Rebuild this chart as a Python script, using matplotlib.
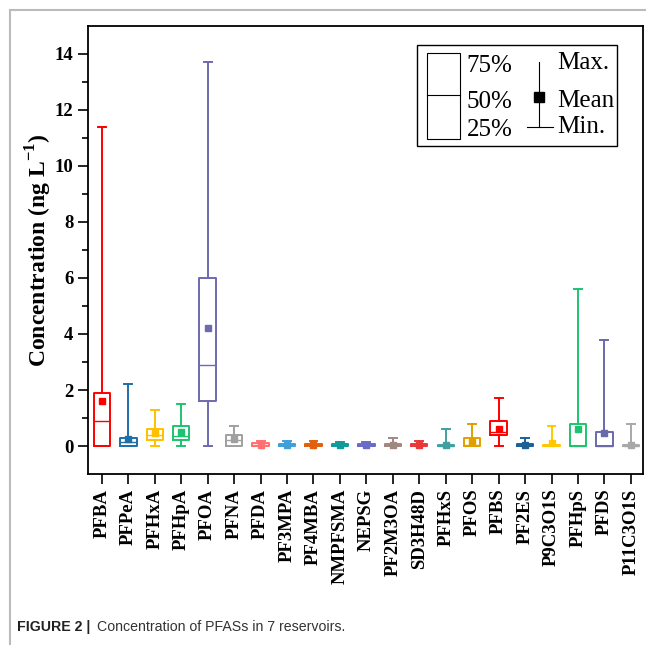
import numpy as np
import matplotlib.pyplot as plt
from matplotlib.patches import Rectangle
from matplotlib.lines import Line2D

plt.rcParams['font.family'] = ['Liberation Serif', 'DejaVu Serif']
plt.rcParams['mathtext.fontset'] = 'custom'
plt.rcParams['mathtext.rm'] = 'Liberation Serif'
plt.rcParams['mathtext.bf'] = 'Liberation Serif:bold'

# data (ng/L)
names = ['PFBA', 'PFPeA', 'PFHxA', 'PFHpA', 'PFOA', 'PFNA', 'PFDA', 'PF3MPA', 'PF4MBA',
         'NMPFSMA', 'NEPSG', 'PF2M3OA', 'SD3H48D', 'PFHxS', 'PFOS', 'PFBS', 'PF2ES',
         'P9C3O1S', 'PFHpS', 'PFDS', 'P11C3O1S']
vmin = [0, 0, 0, 0, 0, 0, 0, 0, 0, 0, 0, 0, 0, 0, 0, 0, 0, 0, 0, 0, 0]
q1 = [0, 0, 0.2, 0.2, 1.6, 0, 0, 0, 0, 0, 0, 0, 0, 0, 0, 0.4, 0, 0, 0, 0, 0]
med = [0.9, 0.15, 0.4, 0.35, 2.9, 0.2, 0.05, 0.02, 0.02, 0.02, 0.02, 0.03, 0.02, 0.01, 0.05, 0.5, 0.02, 0.02, 0.0, 0.0, 0.01]
q3 = [1.9, 0.3, 0.6, 0.7, 6.0, 0.4, 0.1, 0.06, 0.06, 0.06, 0.06, 0.08, 0.06, 0.04, 0.3, 0.9, 0.06, 0.05, 0.8, 0.5, 0.04]
vmax = [11.4, 2.2, 1.3, 1.5, 13.7, 0.7, 0.18, 0.18, 0.18, 0.16, 0.16, 0.3, 0.19, 0.6, 0.8, 1.7, 0.3, 0.7, 5.6, 3.8, 0.8]
vmean = [1.6, 0.25, 0.45, 0.5, 4.2, 0.25, 0.05, 0.02, 0.02, 0.03, 0.02, 0.05, 0.03, 0.02, 0.14, 0.6, 0.03, 0.1, 0.61, 0.45, 0.02]
colors = ['#FF0000', '#1F6FA8', '#FFC000', '#1DC36F', '#6E6AAE', '#A0A0A0', '#FF7070',
          '#3F9FD8', '#E06010', '#109A9A', '#6A6AC8', '#A08880', '#E83838', '#40A0A0',
          '#E0A000', '#FF0000', '#1A6098', '#FFC800', '#1DC36F', '#6A6AAA', '#A8A8A8']

fig = plt.figure(figsize=(6.46, 6.45), dpi=100)
ax = fig.add_axes([0.136, 0.265, 0.859, 0.695])

x = np.arange(len(names))
for i in range(len(names)):
    st = [dict(whislo=vmin[i], q1=q1[i], med=med[i], q3=q3[i], whishi=vmax[i])]
    c = colors[i]
    ax.bxp(st, positions=[x[i]], widths=0.62, showfliers=False,
           boxprops=dict(color=c, linewidth=1.4),
           medianprops=dict(color=c, linewidth=1.0),
           whiskerprops=dict(color=c, linewidth=1.4),
           capprops=dict(color=c, linewidth=1.4),
           capwidths=0.3, manage_ticks=False)
    ax.plot(x[i], vmean[i], 's', color=c, markersize=4.5, zorder=5)

ax.set_xlim(-0.53, 20.45)
ax.set_ylim(-1, 15)
ax.set_xticks(x)
ax.set_xticklabels(names, rotation=90, fontsize=13.5, fontweight='bold')
ax.set_yticks(np.arange(0, 15, 2))
ax.set_yticks(np.arange(1, 15, 2), minor=True)
for lab in ax.get_yticklabels():
    lab.set_fontweight('bold')
    lab.set_fontsize(13.5)
ax.tick_params(axis='both', which='major', direction='out', length=7, width=1.2)
ax.tick_params(axis='y', which='minor', direction='out', length=4, width=1.2)
ax.tick_params(top=False, right=False)
for s in ax.spines.values():
    s.set_linewidth(1.3)
ax.set_ylabel('Concentration (ng L$^{\\mathbf{-1}}$)', fontsize=17, fontweight='bold', labelpad=0.5)

# legend-like key in the top right
tr = ax.transAxes
ax.add_patch(Rectangle((0.594, 0.732), 0.359, 0.226, transform=tr, fill=False,
                       edgecolor='black', linewidth=1.0, zorder=6))
ax.add_patch(Rectangle((0.611, 0.748), 0.059, 0.192, transform=tr, fill=False,
                       edgecolor='black', linewidth=0.8, zorder=6))
ax.add_line(Line2D([0.611, 0.670], [0.846, 0.846], transform=tr, color='black', linewidth=0.8))
for yy, t in zip([0.911, 0.830, 0.768], ['75%', '50%', '25%']):
    ax.text(0.683, yy, t, transform=tr, fontsize=18, va='center', ha='left')
ax.add_line(Line2D([0.813, 0.813], [0.775, 0.920], transform=tr, color='black', linewidth=0.8))
ax.add_line(Line2D([0.791, 0.838], [0.775, 0.775], transform=tr, color='black', linewidth=0.8))
ax.plot([0.813], [0.842], 's', color='black', markersize=7, transform=tr)
for yy, t in zip([0.917, 0.833, 0.775], ['Max.', 'Mean', 'Min.']):
    ax.text(0.845, yy, t, transform=tr, fontsize=18, va='center', ha='left')

# page frame and caption
fig.add_artist(Line2D([10 / 646, 10 / 646], [0, 1 - 10 / 645], color='#BBBBBB', linewidth=1.5))
fig.add_artist(Line2D([10 / 646, 1], [1 - 10 / 645, 1 - 10 / 645], color='#BBBBBB', linewidth=1.5))
fig.text(17 / 646, 1 - 627 / 645, 'FIGURE 2 |', fontsize=10.2, fontweight='bold', color='#222222',
         family=['Liberation Sans', 'DejaVu Sans'], va='center')
fig.text(97 / 646, 1 - 627 / 645, 'Concentration of PFASs in 7 reservoirs.', fontsize=10.2,
         color='#333333', family=['Liberation Sans', 'DejaVu Sans'], va='center')

plt.savefig('out.png', dpi=100)
